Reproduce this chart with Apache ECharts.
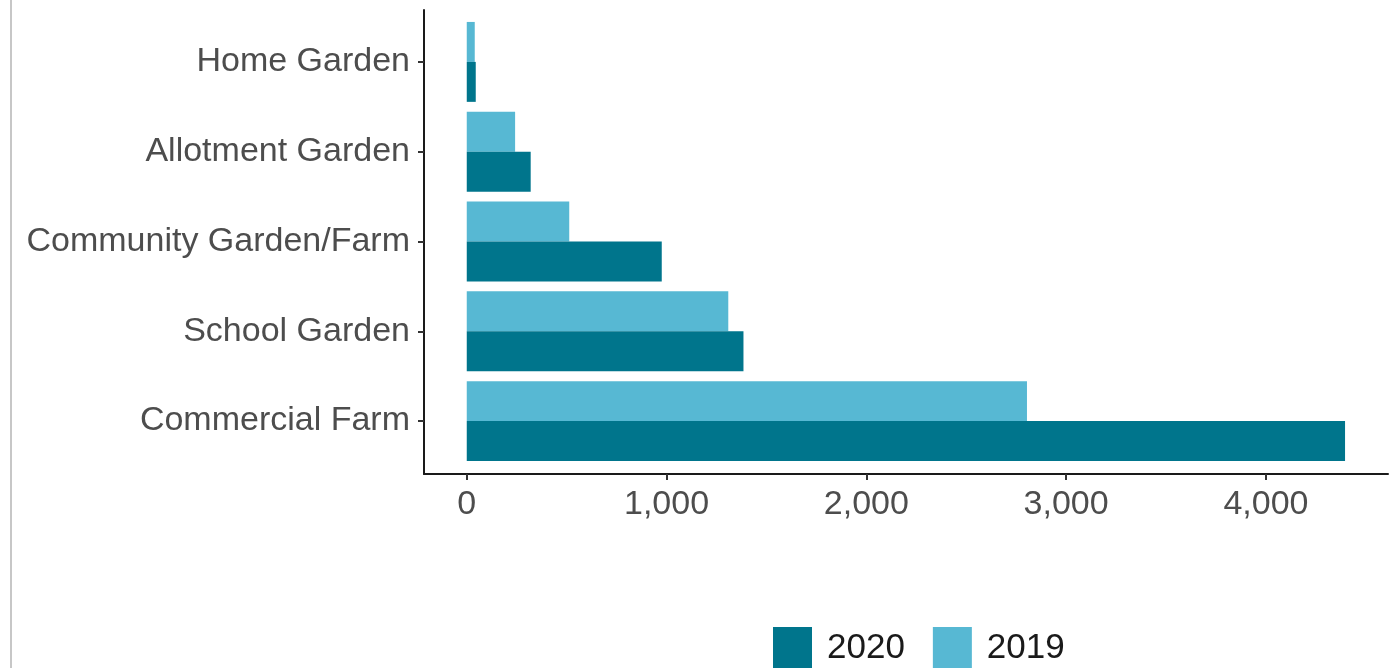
<!DOCTYPE html>
<html>
<head>
<meta charset="utf-8">
<script src="https://cdn.jsdelivr.net/npm/echarts@6/dist/echarts.min.js"></script>
<style>
html,body{margin:0;padding:0;background:#fff;}
#chart{width:1398px;height:668px;}
</style>
</head>
<body>
<div id="chart"></div>
<script>
const categories = ['Home Garden', 'Allotment Garden', 'Community Garden/Farm', 'School Garden', 'Commercial Farm'];
const values2019 = [40, 242, 513, 1309, 2804];
const values2020 = [45, 320, 976, 1385, 4396];
const seriesNames = ['2020', '2019'];
const xTicks = [0, 1000, 2000, 3000, 4000];
const xMin = -214;
const xMax = 4611;

const darkColor = '#00758C';
const lightColor = '#57B8D3';
const labelColor = '#4D4D4D';

const chart = echarts.init(document.getElementById('chart'), null, {renderer: 'canvas'});
const fmt = v => v.toLocaleString('en-US');

chart.setOption({
  backgroundColor: '#fff',
  animation: false,
  textStyle: {fontFamily: 'Liberation Sans, Arial, sans-serif'},
  graphic: [{
    type: 'line',
    shape: {x1: 11, y1: 0, x2: 11, y2: 668},
    style: {stroke: '#b5b5b5', lineWidth: 1.5},
    silent: true
  }],
  legend: {
    data: seriesNames,
    left: 768,
    top: 622,
    itemWidth: 39,
    itemHeight: 43,
    itemGap: 28,
    icon: 'rect',
    textStyle: {fontSize: 35, color: '#1a1a1a', padding: [0, 0, 0, 10]}
  },
  grid: [
    {left: 424, right: 10, top: 10, bottom: 194, containLabel: false},
    {left: 424, right: 10, top: 17, bottom: 202, containLabel: false}
  ],
  xAxis: [
    {
      gridIndex: 0, type: 'value', min: xMin, max: xMax,
      axisLine: {show: true, onZero: false, lineStyle: {color: '#1a1a1a', width: 2}},
      axisTick: {show: true, length: 6, lineStyle: {color: '#333', width: 2}, customValues: xTicks},
      axisLabel: {show: true, customValues: xTicks, formatter: fmt, fontSize: 34, color: labelColor, margin: 14},
      splitLine: {show: false}
    },
    {
      gridIndex: 1, type: 'value', min: xMin, max: xMax, show: false, splitLine: {show: false},
      axisLine: {onZero: false}
    }
  ],
  yAxis: [
    {
      gridIndex: 0, type: 'value', min: 0, max: 1,
      axisLine: {show: true, onZero: false, lineStyle: {color: '#1a1a1a', width: 2}},
      axisTick: {show: false}, axisLabel: {show: false}, splitLine: {show: false}
    },
    {
      gridIndex: 1, type: 'category', data: categories, inverse: true,
      axisLine: {show: false, onZero: false},
      axisTick: {show: true, alignWithLabel: true, length: 6, lineStyle: {color: '#333', width: 2}},
      axisLabel: {fontSize: 34, color: labelColor, margin: 14},
      splitLine: {show: false}
    }
  ],
  series: [
    {
      name: '2019', type: 'bar', xAxisIndex: 1, yAxisIndex: 1,
      data: values2019, itemStyle: {color: lightColor},
      barGap: '0%', barCategoryGap: '11%'
    },
    {
      name: '2020', type: 'bar', xAxisIndex: 1, yAxisIndex: 1,
      data: values2020, itemStyle: {color: darkColor},
      barGap: '0%', barCategoryGap: '11%'
    }
  ]
});
</script>
</body>
</html>
